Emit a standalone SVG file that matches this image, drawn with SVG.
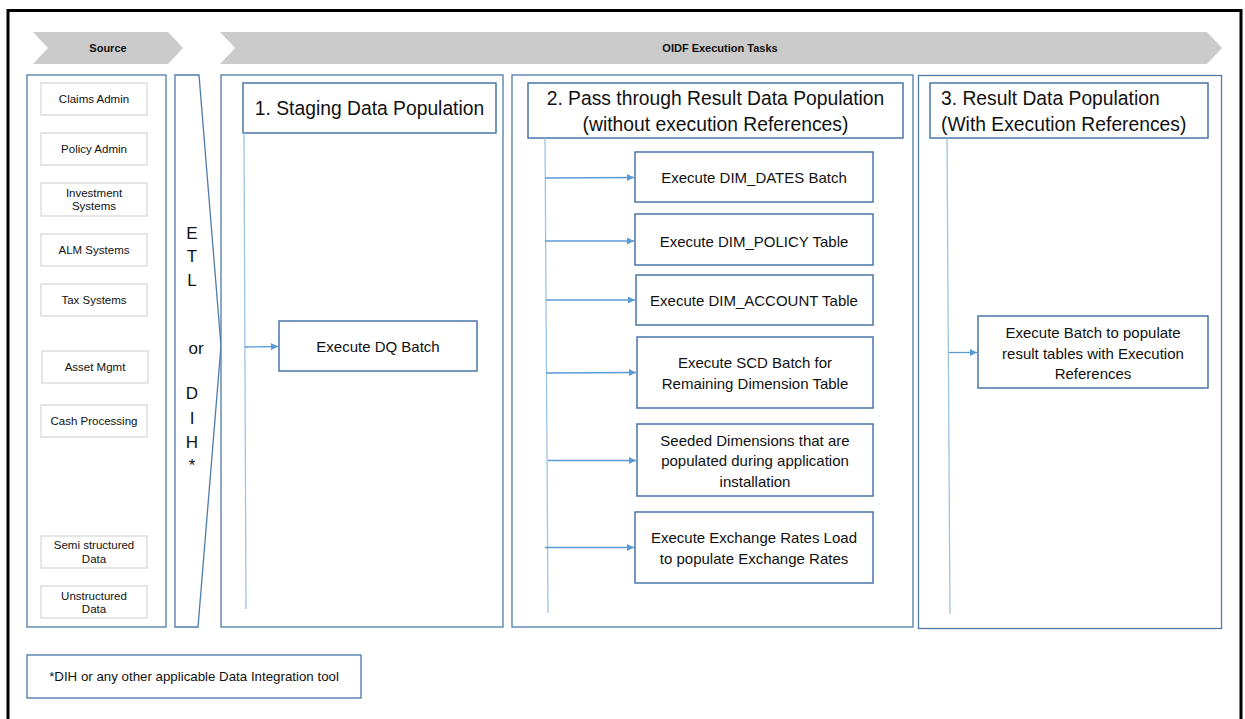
<svg xmlns="http://www.w3.org/2000/svg" width="1245" height="719" viewBox="0 0 1245 719">
<defs>
<style>
.panel{fill:#fff;stroke:#4f7bab;stroke-width:1.3}
.src{fill:#fff;stroke:#d9d9d9;stroke-width:1.3}
.box{fill:#fff;stroke:#4a76a8;stroke-width:1.5}
.t{font-family:"Liberation Sans",Arial,sans-serif;fill:#111;text-anchor:middle;dominant-baseline:central}
.s{font-size:11.5px}
.b{font-size:15px}
.h{font-size:19.3px}
.e{font-size:17px}
.f{font-size:13.3px}
.chev{fill:#cbcbcb}
.ct{font-family:"Liberation Sans",Arial,sans-serif;font-weight:bold;font-size:11px;fill:#111;text-anchor:middle;dominant-baseline:central}
.vl{stroke:#9dc3e6;stroke-width:1.3;fill:none}
.ar{stroke:#5b9bd5;stroke-width:1.3;fill:none;marker-end:url(#ah)}
</style>
<marker id="ah" viewBox="0 0 10 10" refX="10" refY="5" markerWidth="8" markerHeight="7" markerUnits="userSpaceOnUse" orient="auto">
<path d="M0,0 L10,5 L0,10 z" fill="#5b9bd5"/>
</marker>
</defs>
<rect x="0" y="0" width="1245" height="719" fill="#fff"/>
<rect x="8" y="10.5" width="1233" height="715" fill="none" stroke="#000" stroke-width="3"/>

<g id="source-chevron">
<polygon class="chev" points="33,32 168,32 183,48 168,64 33,64 48,48"/>
<text class="ct" x="108" y="48">Source</text>
</g>
<g id="oidf-chevron">
<polygon class="chev" points="220,32 1207,32 1222,48 1207,64 220,64 235,48"/>
<text class="ct" x="720" y="48">OIDF Execution Tasks</text>
</g>

<g id="source-panel">
<rect class="panel" x="27" y="75" width="139" height="552"/>
</g>
<g id="src-claims"><rect class="src" x="41" y="83" width="106" height="32"/><text class="t s" x="94" y="99">Claims Admin</text></g>
<g id="src-policy"><rect class="src" x="41" y="133" width="106" height="32"/><text class="t s" x="94" y="149">Policy Admin</text></g>
<g id="src-investment"><rect class="src" x="41" y="183" width="106" height="33"/><text class="t s" x="94" y="192.5">Investment</text><text class="t s" x="94" y="206">Systems</text></g>
<g id="src-alm"><rect class="src" x="41" y="234" width="106" height="32"/><text class="t s" x="94" y="250">ALM Systems</text></g>
<g id="src-tax"><rect class="src" x="41" y="284" width="106" height="32"/><text class="t s" x="94" y="300">Tax Systems</text></g>
<g id="src-asset"><rect class="src" x="42" y="351" width="106" height="32"/><text class="t s" x="95" y="367">Asset Mgmt</text></g>
<g id="src-cash"><rect class="src" x="41" y="405" width="106" height="32"/><text class="t s" x="94" y="421">Cash Processing</text></g>
<g id="src-semi"><rect class="src" x="41" y="536" width="106" height="32"/><text class="t s" x="94" y="545">Semi structured</text><text class="t s" x="94" y="559">Data</text></g>
<g id="src-unstructured"><rect class="src" x="41" y="586" width="106" height="32"/><text class="t s" x="94" y="595.5">Unstructured</text><text class="t s" x="94" y="609">Data</text></g>

<g id="etl">
<polygon class="panel" points="175,75 199,75 221,346 198,627 175,627"/>
<text class="t e" x="192" y="233">E</text>
<text class="t e" x="192" y="256">T</text>
<text class="t e" x="192" y="280">L</text>
<text class="t e" x="196" y="348">or</text>
<text class="t e" x="192" y="393">D</text>
<text class="t e" x="192" y="418">I</text>
<text class="t e" x="192" y="442">H</text>
<text class="t e" x="192" y="465">*</text>
</g>

<g id="staging-panel">
<rect class="panel" x="221" y="75" width="282" height="552"/>
<rect class="box" x="243" y="83" width="253" height="50"/>
<text class="t h" x="369.5" y="108">1. Staging Data Population</text>
</g>
<g id="dq-batch"><rect class="box" x="279" y="321" width="198" height="50"/><text class="t b" x="378" y="346.5">Execute DQ Batch</text></g>

<g id="passthrough-panel">
<rect class="panel" x="512" y="75" width="401" height="552"/>
<rect class="box" x="528" y="83" width="375" height="55"/>
<text class="t h" x="715.5" y="98.5">2. Pass through Result Data Population</text>
<text class="t h" x="715.5" y="124">(without execution References)</text>
</g>
<g id="dim-dates"><rect class="box" x="635" y="152" width="238" height="50"/><text class="t b" x="754" y="177.5">Execute DIM_DATES Batch</text></g>
<g id="dim-policy"><rect class="box" x="635" y="214" width="238" height="51"/><text class="t b" x="754" y="241">Execute DIM_POLICY Table</text></g>
<g id="dim-account"><rect class="box" x="636" y="275" width="237" height="50"/><text class="t b" x="754" y="300.5">Execute DIM_ACCOUNT Table</text></g>
<g id="scd-batch"><rect class="box" x="637" y="337" width="236" height="71"/><text class="t b" x="755" y="362.5">Execute SCD Batch for</text><text class="t b" x="755" y="383">Remaining Dimension Table</text></g>
<g id="seeded"><rect class="box" x="637" y="424" width="236" height="72"/><text class="t b" x="755" y="440">Seeded Dimensions that are</text><text class="t b" x="755" y="460.5">populated during application</text><text class="t b" x="755" y="481">installation</text></g>
<g id="exchange-rates"><rect class="box" x="635" y="512" width="238" height="71"/><text class="t b" x="754" y="537.5">Execute Exchange Rates Load</text><text class="t b" x="754" y="558">to populate Exchange Rates</text></g>

<g id="result-panel">
<rect class="panel" x="918.5" y="75.5" width="303" height="553"/>
<rect class="box" x="930" y="83" width="278" height="55"/>
<text class="t h" x="941" y="98.5" style="text-anchor:start">3. Result Data Population</text>
<text class="t h" x="941" y="124" style="text-anchor:start">(With Execution References)</text>
</g>
<g id="result-batch"><rect class="box" x="978" y="316" width="230" height="72"/><text class="t b" x="1093" y="332.5">Execute Batch to populate</text><text class="t b" x="1093" y="353">result tables with Execution</text><text class="t b" x="1093" y="373.5">References</text></g>

<g id="footnote"><rect class="box" x="27" y="655" width="334" height="43" style="stroke-width:1.3"/><text class="t f" x="194" y="676.5">*DIH or any other applicable Data Integration tool</text></g>

<g id="connectors">
<line class="vl" x1="244" y1="133" x2="246" y2="609"/>
<line class="ar" x1="245" y1="347" x2="278" y2="346.5"/>
<line class="vl" x1="545" y1="138" x2="548" y2="613"/>
<line class="ar" x1="545" y1="178" x2="634" y2="177.5"/>
<line class="ar" x1="545" y1="241" x2="634" y2="241"/>
<line class="ar" x1="546" y1="300" x2="635" y2="300"/>
<line class="ar" x1="546" y1="373" x2="636" y2="372.5"/>
<line class="ar" x1="548" y1="460.5" x2="636" y2="460.5"/>
<line class="ar" x1="545" y1="547.5" x2="634" y2="547.5"/>
<line class="vl" x1="947" y1="138" x2="950" y2="614"/>
<line class="ar" x1="949" y1="352.5" x2="977" y2="352.5"/>
</g>
</svg>
